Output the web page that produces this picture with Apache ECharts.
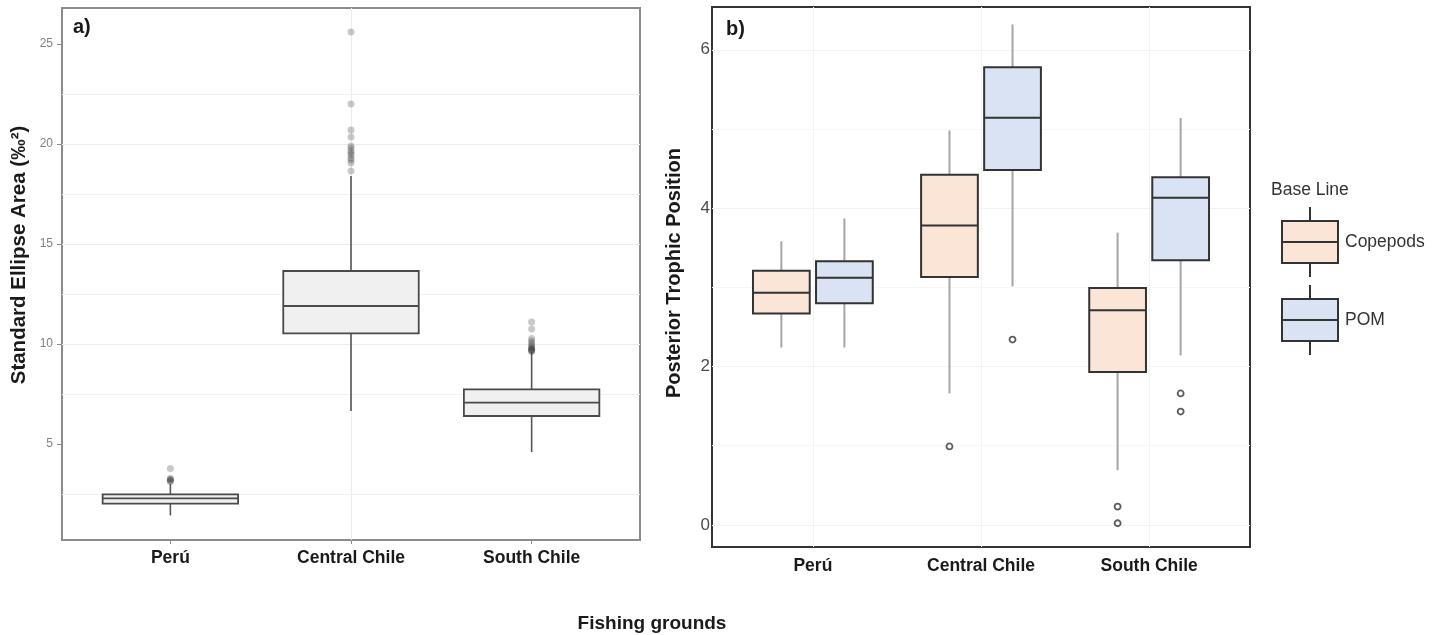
<!DOCTYPE html>
<html><head><meta charset="utf-8">
<script src="https://cdn.jsdelivr.net/npm/echarts@6/dist/echarts.min.js"></script>
<style>html,body{margin:0;padding:0;background:#fff}#chart{width:1444px;height:635px}</style>
</head><body><div id="chart"></div>
<script>
// ---------- data ----------
const categories = ['Perú', 'Central Chile', 'South Chile'];

// Panel a) Standard Ellipse Area : lower whisker, Q1, median, Q3, upper whisker
const seaLow    = [1.43, 6.65, 4.60];
const seaQ1     = [2.02, 10.53, 6.40];
const seaMedian = [2.28, 11.90, 7.07];
const seaQ3     = [2.48, 13.65, 7.73];
const seaHigh   = [3.00, 18.40, 9.60];
const seaOutPeru    = [3.12, 3.16, 3.20, 3.24, 3.28, 3.77];
const seaOutCentral = [18.65, 19.05, 19.20, 19.30, 19.45, 19.55, 19.65, 19.80, 19.90, 20.35, 20.70, 22.00, 25.60];
const seaOutSouth   = [9.62, 9.66, 9.70, 9.73, 9.76, 9.80, 9.86, 9.95, 10.05, 10.15, 10.28, 10.75, 11.10];
const seaTicks = [5, 10, 15, 20, 25];
const seaMinorTicks = [2.5, 7.5, 12.5, 17.5, 22.5];

// Panel b) Posterior Trophic Position
const tpCopLow  = [2.24, 1.66, 0.69];
const tpCopQ1   = [2.67, 3.13, 1.93];
const tpCopMed  = [2.93, 3.78, 2.71];
const tpCopQ3   = [3.21, 4.42, 2.99];
const tpCopHigh = [3.58, 4.98, 3.69];
const tpPomLow  = [2.24, 3.01, 2.14];
const tpPomQ1   = [2.80, 4.48, 3.34];
const tpPomMed  = [3.12, 5.14, 4.13];
const tpPomQ3   = [3.33, 5.78, 4.39];
const tpPomHigh = [3.87, 6.32, 5.14];
const tpCopOut = [[], [0.99], [0.23, 0.02]];
const tpPomOut = [[], [2.34], [1.66, 1.43]];
const tpTicks = [0, 2, 4, 6];
const tpMinorTicks = [1, 3, 5];
const catTicks = [1, 2, 3];

// ---------- build ----------
const FONT = '"Liberation Sans", Arial, Helvetica, sans-serif';
const DODGE = 0.1875;

const seaData = categories.map((c, i) => [i + 1, seaLow[i], seaQ1[i], seaMedian[i], seaQ3[i], seaHigh[i]]);
const copData = categories.map((c, i) => [i + 1, tpCopLow[i], tpCopQ1[i], tpCopMed[i], tpCopQ3[i], tpCopHigh[i]]);
const pomData = categories.map((c, i) => [i + 1, tpPomLow[i], tpPomQ1[i], tpPomMed[i], tpPomQ3[i], tpPomHigh[i]]);
const seaOutData = [].concat(
  seaOutPeru.map(v => [1, v]), seaOutCentral.map(v => [2, v]), seaOutSouth.map(v => [3, v]));
const copOutData = [], pomOutData = [];
tpCopOut.forEach((arr, i) => arr.forEach(v => copOutData.push([i + 1 - DODGE, v])));
tpPomOut.forEach((arr, i) => arr.forEach(v => pomOutData.push([i + 1 + DODGE, v])));

function boxRenderer(boxWidth, offset, st) {
  return function (params, api) {
    const x = api.value(0) + offset;
    const lo = api.coord([x, api.value(1)]);
    const q1 = api.coord([x, api.value(2)]);
    const md = api.coord([x, api.value(3)]);
    const q3 = api.coord([x, api.value(4)]);
    const hi = api.coord([x, api.value(5)]);
    const w = api.size([boxWidth, 0])[0];
    const cx = md[0];
    const ws = { stroke: st.whisker, lineWidth: st.whiskerWidth };
    return {
      type: 'group',
      children: [
        { type: 'line', shape: { x1: cx, y1: hi[1], x2: cx, y2: q3[1] }, style: ws },
        { type: 'line', shape: { x1: cx, y1: q1[1], x2: cx, y2: lo[1] }, style: ws },
        { type: 'rect', shape: { x: cx - w / 2, y: q3[1], width: w, height: q1[1] - q3[1] },
          style: { fill: st.fill, stroke: st.stroke, lineWidth: st.lineWidth } },
        { type: 'line', shape: { x1: cx - w / 2, y1: md[1], x2: cx + w / 2, y2: md[1] },
          style: { stroke: st.stroke, lineWidth: st.lineWidth } }
      ]
    };
  };
}

function minorLines(vals, color) {
  return { silent: true, symbol: 'none', z: 1, animation: false, label: { show: false },
    lineStyle: { color: color, width: 1, type: 'solid' }, emphasis: { disabled: true },
    data: vals.map(v => ({ yAxis: v })) };
}

const catLabel = v => { const i = Math.round(v); return Math.abs(v - i) < 1e-6 && categories[i - 1] ? categories[i - 1] : ''; };

const option = {
  animation: false,
  backgroundColor: '#fff',
  textStyle: { fontFamily: FONT },
  title: [
    { text: 'a)', left: 68, top: 12, textStyle: { fontSize: 20, fontWeight: 'bold', color: '#1a1a1a', fontFamily: FONT } },
    { text: 'b)', left: 721, top: 14, textStyle: { fontSize: 20, fontWeight: 'bold', color: '#1a1a1a', fontFamily: FONT } },
    { text: 'Base Line', left: 1266, top: 176, textStyle: { fontSize: 17.5, fontWeight: 'normal', color: '#333', fontFamily: FONT } },
    { text: 'Fishing grounds', left: 647, top: 609, textAlign: 'center', textStyle: { fontSize: 19, fontWeight: 'bold', color: '#1a1a1a', fontFamily: FONT } }
  ],
  graphic: [
    { type: 'text', x: 19, y: 255, rotation: Math.PI / 2,
      style: { text: 'Standard Ellipse Area (‰²)', fontSize: 20.5, fontWeight: 'bold', fontFamily: FONT, fill: '#1a1a1a',
        textAlign: 'center', textVerticalAlign: 'middle', align: 'center', verticalAlign: 'middle' } },
    { type: 'text', x: 674, y: 273, rotation: Math.PI / 2,
      style: { text: 'Posterior Trophic Position', fontSize: 20, fontWeight: 'bold', fontFamily: FONT, fill: '#1a1a1a',
        textAlign: 'center', textVerticalAlign: 'middle', align: 'center', verticalAlign: 'middle' } }
  ],
  legend: {
    data: ['Copepods', 'POM'], orient: 'vertical', left: 1276, top: 201,
    itemWidth: 56, itemHeight: 70, itemGap: 6, selectedMode: false,
    icon: 'path://M28,0 L28,14 M0,14 L56,14 L56,56 L0,56 Z M0,35 L56,35 M28,56 L28,70',
    itemStyle: { borderColor: '#333', borderWidth: 2 },
    textStyle: { fontSize: 17.5, color: '#333', fontFamily: FONT, padding: [8, 0, 0, 2] }
  },
  grid: [
    { left: 62, top: 8, width: 578, height: 532, show: true, borderColor: '#8c8c8c', borderWidth: 2, backgroundColor: '#fff' },
    { left: 712, top: 7, width: 538, height: 540, show: true, borderColor: '#333', borderWidth: 2, backgroundColor: '#fff' }
  ],
  xAxis: [
    { type: 'value', gridIndex: 0, min: 0.4, max: 3.6, splitNumber: 3,
      axisLine: { show: false },
      axisTick: { show: true, length: 4, customValues: catTicks, lineStyle: { color: '#8c8c8c', width: 1 } },
      axisLabel: { customValues: catTicks, formatter: catLabel, margin: 9, fontSize: 17.5, fontWeight: 'bold', color: '#1a1a1a' },
      splitLine: { show: true, showMinLine: false, showMaxLine: false, lineStyle: { color: '#ececec', width: 1 } } },
    { type: 'value', gridIndex: 1, min: 0.4, max: 3.6, splitNumber: 3,
      axisLine: { show: false },
      axisTick: { show: false },
      axisLabel: { customValues: catTicks, formatter: catLabel, margin: 10, fontSize: 17.5, fontWeight: 'bold', color: '#1a1a1a' },
      splitLine: { show: true, showMinLine: false, showMaxLine: false, lineStyle: { color: '#f3f3f3', width: 1 } } }
  ],
  yAxis: [
    { type: 'value', gridIndex: 0, min: 0.2, max: 26.8, splitNumber: 5,
      axisLine: { show: false },
      axisTick: { show: true, length: 5, customValues: seaTicks, lineStyle: { color: '#8c8c8c', width: 1 } },
      axisLabel: { customValues: seaTicks, margin: 9, fontSize: 12, color: '#808080' },
      splitLine: { show: true, showMinLine: false, showMaxLine: false, lineStyle: { color: '#ececec', width: 1 } } },
    { type: 'value', gridIndex: 1, min: -0.28, max: 6.54, splitNumber: 3,
      axisLine: { show: false },
      axisTick: { show: false },
      axisLabel: { customValues: tpTicks, margin: 2, fontSize: 17, color: '#4d4d4d' },
      splitLine: { show: true, showMinLine: false, showMaxLine: false, lineStyle: { color: '#f3f3f3', width: 1 } } }
  ],
  series: [
    { type: 'custom', name: 'SEA', xAxisIndex: 0, yAxisIndex: 0, z: 2,
      renderItem: boxRenderer(0.75, 0, { fill: '#f0f0f0', stroke: '#4a4a4a', lineWidth: 1.8, whisker: '#555', whiskerWidth: 1.6 }),
      encode: { x: 0, y: [1, 2, 3, 4, 5] }, data: seaData,
      itemStyle: { color: '#f0f0f0' },
      markLine: minorLines(seaMinorTicks, '#f1f1f1') },
    { type: 'scatter', name: 'SEA outliers', xAxisIndex: 0, yAxisIndex: 0, z: 3,
      symbol: 'circle', symbolSize: 7, data: seaOutData,
      itemStyle: { color: 'rgba(60,60,60,0.35)' }, emphasis: { disabled: true } },
    { type: 'custom', name: 'Copepods', xAxisIndex: 1, yAxisIndex: 1, z: 2,
      renderItem: boxRenderer(0.3375, -DODGE, { fill: '#fbe5d6', stroke: '#333', lineWidth: 2, whisker: '#a6a6a6', whiskerWidth: 2 }),
      encode: { x: 0, y: [1, 2, 3, 4, 5] }, data: copData,
      itemStyle: { color: '#fbe5d6', borderColor: '#333' },
      markLine: minorLines(tpMinorTicks, '#f7f7f7') },
    { type: 'custom', name: 'POM', xAxisIndex: 1, yAxisIndex: 1, z: 2,
      renderItem: boxRenderer(0.3375, DODGE, { fill: '#dae3f3', stroke: '#333', lineWidth: 2, whisker: '#a6a6a6', whiskerWidth: 2 }),
      encode: { x: 0, y: [1, 2, 3, 4, 5] }, data: pomData,
      itemStyle: { color: '#dae3f3', borderColor: '#333' } },
    { type: 'scatter', name: 'Copepods outliers', xAxisIndex: 1, yAxisIndex: 1, z: 3,
      symbol: 'circle', symbolSize: 6, data: copOutData,
      itemStyle: { color: '#fff', borderColor: '#333', borderWidth: 1.8 }, emphasis: { disabled: true } },
    { type: 'scatter', name: 'POM outliers', xAxisIndex: 1, yAxisIndex: 1, z: 3,
      symbol: 'circle', symbolSize: 6, data: pomOutData,
      itemStyle: { color: '#fff', borderColor: '#333', borderWidth: 1.8 }, emphasis: { disabled: true } }
  ]
};

const chart = echarts.init(document.getElementById('chart'), null, { renderer: 'canvas' });
chart.setOption(option);
</script>
</body></html>
